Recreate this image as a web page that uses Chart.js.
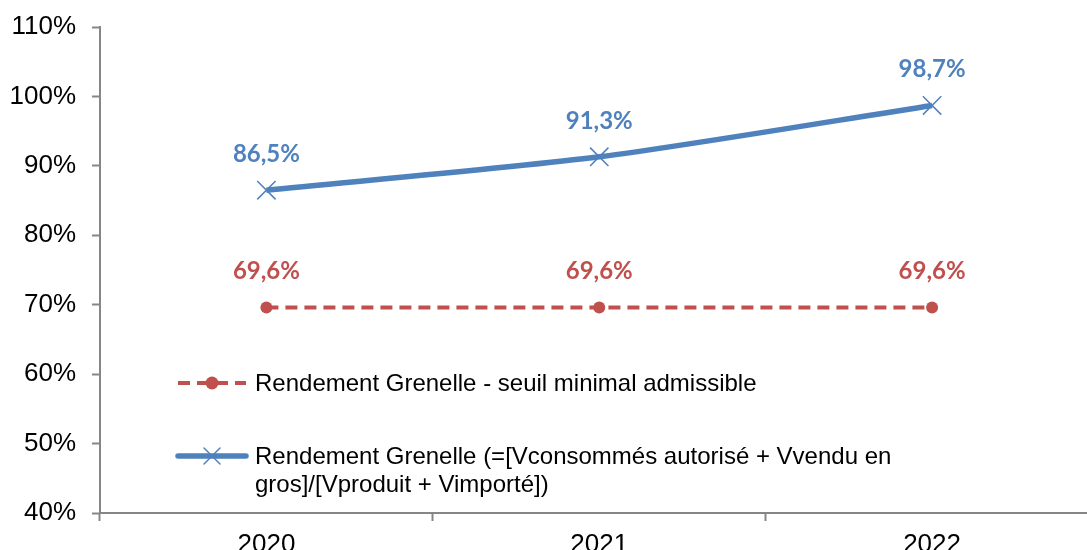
<!DOCTYPE html>
<html>
<head>
<meta charset="utf-8">
<script src="https://cdn.jsdelivr.net/npm/chart.js@4/dist/chart.umd.min.js"></script>
<style>
  html, body { margin: 0; padding: 0; background: #fff; overflow: hidden; }
  #wrap { width: 1113px; height: 550px; }
</style>
</head>
<body>
<div id="wrap"><canvas id="chart" width="1113" height="550"></canvas></div>
<script>
const years = ['2020', '2021', '2022'];
const seuilValues = [69.6, 69.6, 69.6];
const rendementValues = [86.5, 91.3, 98.7];
const yTicks = [40, 50, 60, 70, 80, 90, 100, 110];

const seuilLabel = 'Rendement Grenelle - seuil minimal admissible';
const rendementLabel = ['Rendement Grenelle (=[Vconsommés autorisé + Vvendu en', 'gros]/[Vproduit + Vimporté])'];

const RED = '#C0504D';
const BLUE = '#4F81BD';
const AXIS = '#868686';

function fmt(v) {
    return v.toFixed(1).replace('.', ',') + '%';
}

// value labels above each point
const valueLabels = {
    id: 'valueLabels',
    afterDatasetsDraw(chart) {
        const ctx = chart.ctx;
        ctx.save();
        ctx.font = 'bold 24px Lato, "Open Sans", sans-serif';
        ctx.textAlign = 'center';
        ctx.textBaseline = 'middle';
        chart.data.datasets.forEach((ds, i) => {
            const meta = chart.getDatasetMeta(i);
            ctx.fillStyle = ds.borderColor;
            meta.data.forEach((pt, j) => {
                ctx.fillText(fmt(ds.data[j]), pt.x, pt.y - 36);
            });
        });
        ctx.restore();
    }
};

// legend drawn inside the plot area
const innerLegend = {
    id: 'innerLegend',
    afterDraw(chart) {
        const ctx = chart.ctx;
        ctx.save();
        const x0 = 178, x1 = 246, xm = 212;

        // red dashed entry
        let y = 383;
        ctx.strokeStyle = RED;
        ctx.lineWidth = 4;
        ctx.setLineDash([12, 7]);
        ctx.beginPath(); ctx.moveTo(x0, y); ctx.lineTo(x1, y); ctx.stroke();
        ctx.setLineDash([]);
        ctx.fillStyle = RED;
        ctx.beginPath(); ctx.arc(xm, y, 6.5, 0, Math.PI * 2); ctx.fill();

        // blue entry
        y = 456;
        ctx.strokeStyle = BLUE;
        ctx.lineWidth = 5.5;
        ctx.lineCap = 'round';
        ctx.beginPath(); ctx.moveTo(x0, y); ctx.lineTo(x1, y); ctx.stroke();
        ctx.lineWidth = 1.5;
        ctx.beginPath();
        ctx.moveTo(xm - 8, y - 8); ctx.lineTo(xm + 8, y + 8);
        ctx.moveTo(xm + 8, y - 8); ctx.lineTo(xm - 8, y + 8);
        ctx.stroke();

        ctx.fillStyle = '#000';
        ctx.font = '24px "Liberation Sans", Arial, sans-serif';
        ctx.textAlign = 'left';
        ctx.textBaseline = 'middle';
        ctx.fillText(seuilLabel, 255, 384);
        ctx.fillText(rendementLabel[0], 255, 457);
        ctx.fillText(rendementLabel[1], 255, 485);
        ctx.restore();
    }
};

new Chart(document.getElementById('chart').getContext('2d'), {
    type: 'line',
    data: {
        labels: years,
        datasets: [{
            label: seuilLabel,
            data: seuilValues,
            borderColor: RED,
            backgroundColor: RED,
            borderWidth: 4,
            borderDash: [12, 7],
            pointStyle: 'circle',
            pointRadius: 6,
            pointBorderWidth: 0,
            tension: 0
        }, {
            label: rendementLabel.join(' '),
            data: rendementValues,
            borderColor: BLUE,
            backgroundColor: BLUE,
            borderWidth: 5.5,
            pointStyle: 'crossRot',
            pointRadius: 13,
            pointBorderWidth: 1.5,
            tension: 0.25
        }]
    },
    options: {
        responsive: false,
        animation: false,
        layout: { padding: { top: 27, left: 0, right: 0, bottom: 0 } },
        plugins: {
            legend: { display: false },
            tooltip: { enabled: false }
        },
        scales: {
            x: {
                offset: true,
                grid: {
                    offset: true,
                    drawOnChartArea: false,
                    drawTicks: true,
                    tickLength: 8,
                    tickColor: AXIS,
                    tickWidth: 2
                },
                border: { color: AXIS, width: 2 },
                ticks: {
                    color: '#000',
                    font: { family: '"Liberation Sans", Arial, sans-serif', size: 26 },
                    padding: 8
                },
                afterFit(scale) {
                    scale.height = 37;
                    scale.paddingLeft = 0;
                    scale.paddingRight = 0;
                }
            },
            y: {
                min: 40,
                max: 110,
                afterBuildTicks(scale) {
                    scale.ticks = yTicks.map(v => ({ value: v }));
                },
                grid: {
                    drawOnChartArea: false,
                    drawTicks: true,
                    tickLength: 8,
                    tickColor: AXIS,
                    tickWidth: 2
                },
                border: { color: AXIS, width: 2 },
                ticks: {
                    color: '#000',
                    font: { family: '"Liberation Sans", Arial, sans-serif', size: 26 },
                    padding: 16,
                    callback: v => v + '%'
                },
                afterFit(scale) {
                    scale.width = 100;
                    scale.paddingTop = 0;
                    scale.paddingBottom = 0;
                }
            }
        }
    },
    plugins: [valueLabels, innerLegend]
});
</script>
</body>
</html>
